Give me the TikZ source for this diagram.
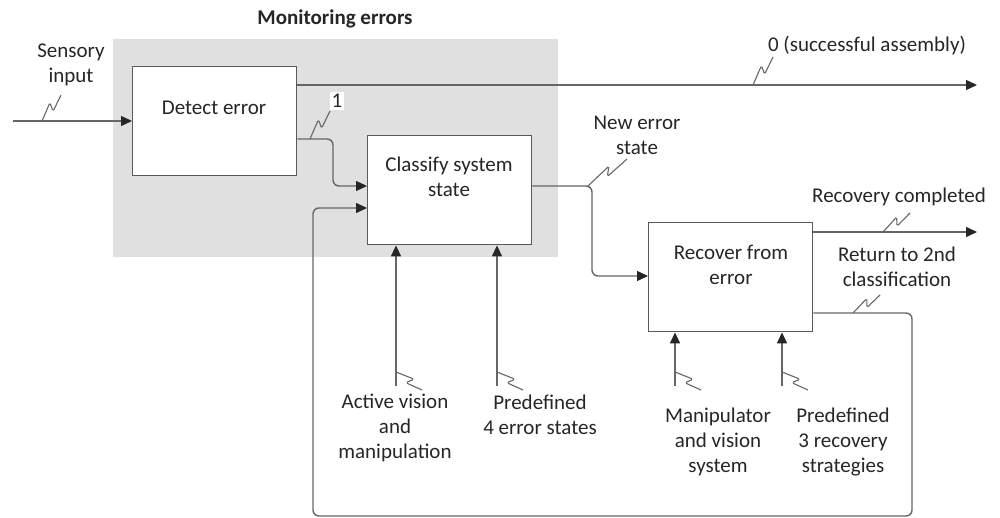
\documentclass[tikz,border=0pt]{standalone}
\usepackage{fontspec}
\setmainfont{Carlito}
\usetikzlibrary{arrows.meta,calc}
\newcommand\squig[2]{\draw[sq] (#1) -- ($(#1)!0.6!(#2)!2.2pt!90:(#2)$) -- ($(#1)!0.45!(#2)!1.6pt!-90:(#2)$) -- (#2);}
\begin{document}
\begin{tikzpicture}[x=0.5pt,y=-0.5pt,
  box/.style={draw=black!65, line width=0.7pt, fill=white, inner sep=0, anchor=north west, minimum width=82pt, minimum height=54.5pt},
  txt/.style={align=center, font=\fontsize{10.5pt}{12.5pt}\selectfont, text=black!85, inner sep=0},
  arr/.style={draw=black!60, line width=0.7pt, -{Triangle[length=5.5pt,width=5pt,color=black!85]}},
  link/.style={draw=black!60, line width=0.7pt, rounded corners=3pt},
  sq/.style={draw=black!60, line width=0.55pt, rounded corners=0.8pt}]
\useasboundingbox (0,0) rectangle (1000,518);
% monitoring region
\node[fill=black!12, anchor=north west, minimum width=222.5pt, minimum height=109pt, inner sep=0] (mon) at (113,39) {};
\node[txt, font=\fontsize{10.5pt}{12.5pt}\selectfont\bfseries] (monT) at (335,19) {Monitoring errors};
% boxes
\node[box] (detect) at (132,66) {};
\node[txt] (detectT) at (214,108) {Detect error};
\node[box] (classify) at (367,135) {};
\node[txt] (classifyT) at (449,177) {Classify system\\state};
\node[box] (recover) at (648,222) {};
\node[txt] (recoverT) at (731,265) {Recover from\\error};
% coordinates
\coordinate (sIn) at (13,121);
\coordinate (succ) at (977,85);
\coordinate (c1) at (333,139);
\coordinate (c2) at (333,186);
\coordinate (f1) at (912,313);
\coordinate (f2) at (912,516);
\coordinate (f3) at (313,516);
\coordinate (f4) at (313,208);
\coordinate (n1) at (592,186);
\coordinate (n2) at (592,276);
\coordinate (rc) at (977,232);
\coordinate (i1) at (396,386);
\coordinate (i2) at (497,386);
\coordinate (i3) at (675,386);
\coordinate (i4) at (782,386);
% connectors
\draw[arr] (sIn) -- (sIn -| detect.west);
\draw[arr] (succ -| detect.east) -- (succ);
\draw[arr, link] (c1 -| detect.east) -- (c1) -- (c2) -- (c2 -| classify.west);
\draw[arr, link] (f1 -| recover.east) -- (f1) -- (f2) -- (f3) -- (f4) -- (f4 -| classify.west);
\draw[arr, link] (n1 -| classify.east) -- (n1) -- (n2) -- (n2 -| recover.west);
\draw[arr] (rc -| recover.east) -- (rc);
\draw[arr] (i1) -- (i1 |- classify.south);
\draw[arr] (i2) -- (i2 |- classify.south);
\draw[arr] (i3) -- (i3 |- recover.south);
\draw[arr] (i4) -- (i4 |- recover.south);
% squiggles
\squig{42,121}{61,95}
\squig{753,85}{773,57}
\squig{310,139}{330,111}
\squig{588,186}{627,159}
\squig{883,232}{910,213}
\squig{853,313}{880,295}
\squig{396,372}{422,390}
\squig{497,372}{523,390}
\squig{675,372}{701,390}
\squig{782,372}{808,390}
% labels
\node[txt] (sensT) at (71,65) {Sensory\\input};
\node[txt] (succT) at (867,46) {0 (successful assembly)};
\node[txt, fill=white, inner sep=1pt] (oneT) at (337,101) {1};
\node[txt] (newT) at (637,135) {New error\\state};
\node[txt] (rcT) at (899,197) {Recovery completed};
\node[txt] (retT) at (897,267) {Return to 2nd\\classification};
\node[txt] (avT) at (395,428) {Active vision\\and\\manipulation};
\node[txt] (p4T) at (540,415) {Predefined\\4 error states};
\node[txt] (mvT) at (718,442) {Manipulator\\and vision\\system};
\node[txt] (p3T) at (843,442) {Predefined\\3 recovery\\strategies};
\end{tikzpicture}
\end{document}
